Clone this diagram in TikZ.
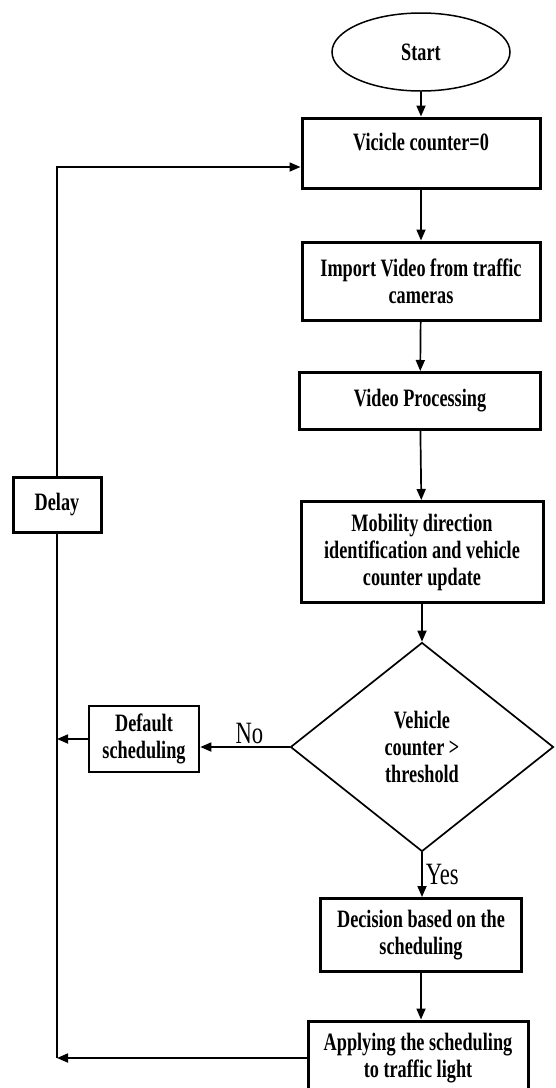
\documentclass[tikz,border=0pt]{standalone}
\usepackage{fontspec}
\setmainfont{Liberation Serif}[FakeStretch=0.73]
\usepackage{tikz}
\usetikzlibrary{shapes.geometric, arrows.meta}

\begin{document}
\begin{tikzpicture}[x=1pt, y=-1pt, every node/.style={font=\bfseries\fontsize{25}{27}\selectfont, align=center, inner sep=2pt}, box/.style={rectangle, draw, line width=3pt}, arr/.style={line width=1.7pt, -{Triangle[length=11pt, width=9pt]}}, lbl/.style={font=\fontsize{31}{32}\selectfont}]
  \useasboundingbox (0,0) rectangle (556,1088);
  \node[ellipse, draw, line width=1.5pt, minimum width=178pt, minimum height=78pt] (start) at (421,52) {Start};
  \node[box, minimum width=238pt, minimum height=70pt, text depth=22pt] (cnt) at (421,153) {Vicicle counter=0};
  \node[box, minimum width=238pt, minimum height=78pt] (imp) at (421,281) {Import Video from traffic\\cameras};
  \node[box, minimum width=241pt, minimum height=57pt] (vid) at (420,401) {Video Processing};
  \node[box, minimum width=242pt, minimum height=101pt] (mob) at (422,552) {Mobility direction\\identification and vehicle\\counter update};
  \node[diamond, draw, line width=1.7pt, inner sep=0pt, minimum width=263pt, minimum height=209pt] (dec) at (422,747) {Vehicle\\counter \textgreater\\threshold};
  \node[box, minimum width=201pt, minimum height=73pt] (sch) at (421,935) {Decision based on the\\scheduling};
  \node[box, minimum width=220pt, minimum height=74pt] (app) at (418,1058) {Applying the scheduling\\to traffic light};
  \node[box, line width=2.6pt, minimum width=110pt, minimum height=66pt] (dflt) at (144,739) {Default\\scheduling};
  \node[box, minimum width=88pt, minimum height=55pt] (delay) at (57,505) {Delay};
  \coordinate (top) at (57,167);

  \draw[arr] (start) -- (cnt);
  \draw[arr] (cnt) -- (imp);
  \draw[arr] (imp) -- (vid);
  \draw[arr] (vid) -- (mob);
  \draw[arr] (mob) -- (dec);
  \draw[arr] (dec.south) -- node[lbl, right, inner sep=3pt] {Yes} (sch.north -| dec.south);
  \draw[arr] (sch) -- (app.north -| sch.south);
  \draw[arr] (dec.west) -- node[lbl, above, pos=0.45] {No} (dflt.east |- dec.west);
  \draw[arr] (dflt.west) -- (dflt.west -| delay);
  \draw[arr] (app.west) -- (app.west -| delay);
  \draw[line width=1.7pt] (app.west -| delay) -- (delay.south);
  \draw[arr] (delay.north) -- (top) -- (top -| cnt.west);
\end{tikzpicture}
\end{document}
